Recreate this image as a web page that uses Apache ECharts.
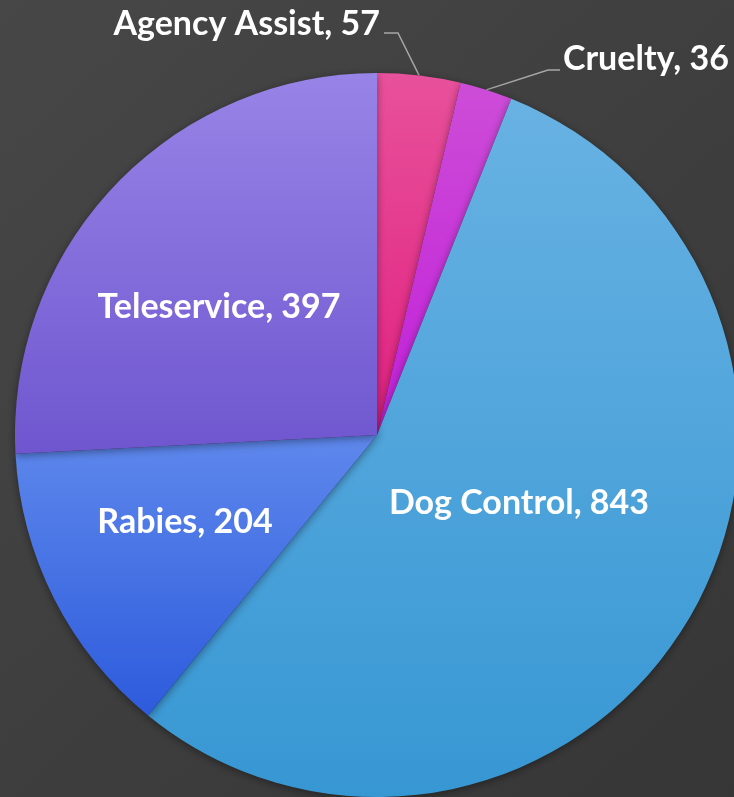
<!DOCTYPE html>
<html>
<head>
<meta charset="utf-8">
<script src="https://cdn.jsdelivr.net/npm/echarts@6/dist/echarts.min.js"></script>
<style>
  html, body { margin: 0; padding: 0; }
  #chart { width: 734px; height: 797px; }
</style>
</head>
<body>
<div id="chart"></div>
<script>
// data
const categories = ['Agency Assist', 'Cruelty', 'Dog Control', 'Rabies', 'Teleservice']
const counts = [57, 36, 843, 204, 397]
const topColors = ['#e8519b', '#cd4dd7', '#68b2e3', '#5e88ec', '#9884e7']
const bottomColors = ['#e0207f', '#c11fd9', '#3797d3', '#2d5bdc', '#6f56cf']

const grad = (i) => new echarts.graphic.LinearGradient(0, 0, 0, 1, [
  { offset: 0, color: topColors[i] },
  { offset: 1, color: bottomColors[i] }
])

const labelFont = {
  color: '#ffffff',
  fontFamily: 'Lato',
  fontWeight: 'bold',
  fontSize: 34
}

const chart = echarts.init(document.getElementById('chart'))
chart.setOption({
  backgroundColor: new echarts.graphic.LinearGradient(0, 0, 1, 1, [
    { offset: 0, color: '#474747' },
    { offset: 1, color: '#363636' }
  ]),
  series: [{
    type: 'pie',
    center: [377, 435],
    radius: 362,
    startAngle: 90,
    clockwise: true,
    animation: false,
    silent: true,
    itemStyle: {
      shadowBlur: 8,
      shadowColor: 'rgba(0,0,0,0.4)',
      shadowOffsetY: 2
    },
    label: Object.assign({ position: 'inside', formatter: '{b}, {c}' }, labelFont),
    labelLine: { lineStyle: { color: '#a6a6a6', width: 1.5 } },
    labelLayout: function (p) {
      if (p.dataIndex === 0) {
        const a = p.labelLinePoints ? p.labelLinePoints[0] : [419, 75]
        return { x: 380, y: 24, align: 'right', verticalAlign: 'middle',
          labelLinePoints: [a, [398, 33], [384, 33]] }
      }
      if (p.dataIndex === 1) {
        const a = p.labelLinePoints ? p.labelLinePoints[0] : [488, 89]
        return { x: 563, y: 59, align: 'left', verticalAlign: 'middle',
          labelLinePoints: [a, [548, 70], [560, 70]] }
      }
      if (p.dataIndex === 2) return { x: 519, y: 503, align: 'center', verticalAlign: 'middle' }
      if (p.dataIndex === 3) return { x: 185, y: 522, align: 'center', verticalAlign: 'middle' }
      if (p.dataIndex === 4) return { x: 219, y: 307, align: 'center', verticalAlign: 'middle' }
    },
    data: categories.map((name, i) => ({
      name: name,
      value: counts[i],
      itemStyle: { color: grad(i) },
      label: i < 2 ? Object.assign({ position: 'outside', show: true }, labelFont) : undefined,
      labelLine: { show: i < 2, length: 20, length2: 10 }
    }))
  }]
})
</script>
</body>
</html>
